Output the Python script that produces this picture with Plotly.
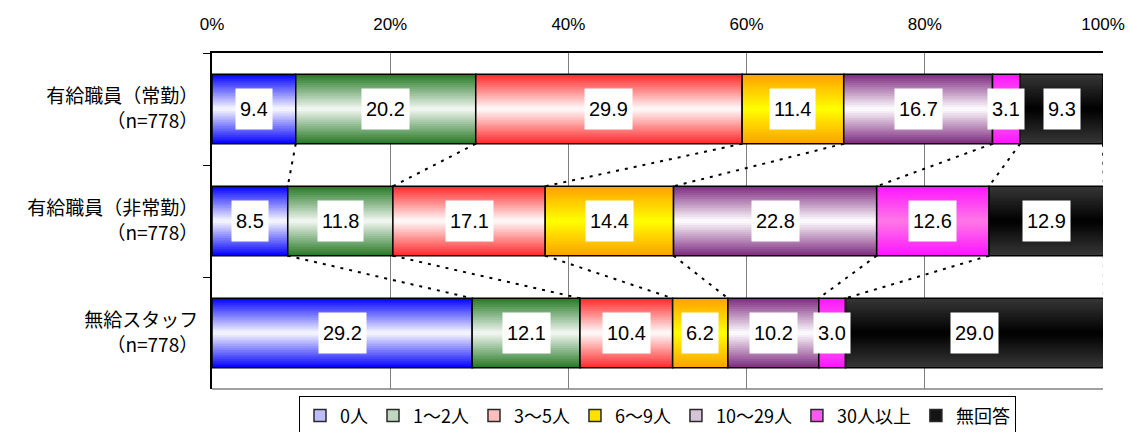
import plotly.graph_objects as go

# ---- data ----
rows = ["有給職員（常勤）<br>（n=778）", "有給職員（非常勤）<br>（n=778）", "無給スタッフ<br>（n=778）"]
series_names = ["0人", "1～2人", "3～5人", "6～9人", "10～29人", "30人以上", "無回答"]
v_0 = [9.4, 8.5, 29.2]
v_1_2 = [20.2, 11.8, 12.1]
v_3_5 = [29.9, 17.1, 10.4]
v_6_9 = [11.4, 14.4, 6.2]
v_10_29 = [16.7, 22.8, 10.2]
v_30 = [3.1, 12.6, 3.0]
v_na = [9.3, 12.9, 29.0]
series_values = [v_0, v_1_2, v_3_5, v_6_9, v_10_29, v_30, v_na]
x_ticks = [0, 20, 40, 60, 80, 100]
x_tick_labels = ["0%", "20%", "40%", "60%", "80%", "100%"]

# ---- styles ----
edge_cols = [(0, 0, 255), (35, 120, 35), (255, 40, 40), (255, 160, 0), (125, 40, 125), (255, 20, 255), (55, 55, 55)]
center_cols = [(250, 250, 255), (245, 248, 245), (255, 252, 252), (255, 255, 0), (255, 255, 255), (255, 120, 230), (0, 0, 0)]
legend_fill = [(190, 190, 255), (190, 215, 190), (255, 190, 190), (255, 225, 0), (215, 195, 215), (255, 90, 240), (20, 20, 20)]
BAR_W = 0.62
NSTEP = 16
NUM_FONT = "Liberation Sans Narrow, Arial Narrow, Liberation Sans, Arial"
JP_FONT = "Noto Sans CJK JP"


def mix(a, b, t):
    return "rgb(%d,%d,%d)" % tuple(round(a[i] + (b[i] - a[i]) * t) for i in range(3))


# cumulative bases
bases = []
acc = [0.0] * len(rows)
for vals in series_values:
    bases.append(list(acc))
    acc = [acc[i] + vals[i] for i in range(len(rows))]

fig = go.Figure()

for s, vals in enumerate(series_values):
    for k in range(NSTEP):
        frac = 1 - k / NSTEP
        d = 1 - (k + 0.5) / NSTEP
        col = mix(center_cols[s], edge_cols[s], d)
        fig.add_trace(go.Bar(
            y=rows, x=vals, base=bases[s], orientation="h",
            width=BAR_W * frac, marker=dict(color=col, line=dict(width=0)),
            showlegend=False, hoverinfo="skip",
        ))
    fig.add_trace(go.Bar(
        y=rows, x=vals, base=bases[s], orientation="h", width=BAR_W,
        marker=dict(color="rgba(0,0,0,0)", line=dict(color="black", width=1.5)),
        showlegend=False, name=series_names[s],
    ))

# connector (series) lines on numeric overlay axis
for r in range(len(rows) - 1):
    for s in range(len(series_values)):
        x0 = bases[s][r] + series_values[s][r]
        x1 = bases[s][r + 1] + series_values[s][r + 1]
        fig.add_trace(go.Scatter(
            x=[x0, x1], y=[r + BAR_W / 2, r + 1 - BAR_W / 2], yaxis="y2",
            mode="lines", line=dict(color="black", width=2, dash="3px,6px"),
            showlegend=False, hoverinfo="skip",
        ))

# legend entries
for s, name in enumerate(series_names):
    fig.add_trace(go.Scatter(
        x=[None], y=[None], mode="markers", name=name,
        marker=dict(symbol="square", size=12, color=mix(legend_fill[s], legend_fill[s], 0),
                    line=dict(color="rgb(40,40,40)", width=1.5)),
    ))

# data labels
for s, vals in enumerate(series_values):
    for r in range(len(rows)):
        fig.add_annotation(
            x=bases[s][r] + vals[r] / 2, y=rows[r], xref="x", yref="y",
            text="%.1f" % vals[r], showarrow=False,
            font=dict(family=NUM_FONT, size=20, color="black"),
            bgcolor="white", borderpad=4, height=32,
        )

fig.update_layout(
    width=1129, height=432,
    margin=dict(l=212, r=26, t=53, b=43, autoexpand=False),
    paper_bgcolor="white", plot_bgcolor="white",
    barmode="overlay",
    font=dict(family=JP_FONT, color="black"),
    xaxis=dict(
        side="top", range=[0, 100], tickvals=x_ticks, ticktext=x_tick_labels,
        showgrid=True, gridcolor="rgb(128,128,128)", gridwidth=1,
        showline=True, linecolor="black", linewidth=2,
        zeroline=False, ticks="", ticklabelstandoff=14, automargin=False,
        tickfont=dict(family=NUM_FONT, size=17, color="black"),
        fixedrange=True,
    ),
    yaxis=dict(
        type="category", categoryorder="array", categoryarray=rows,
        range=[2.5, -0.5], tickson="boundaries", ticks="outside", ticklen=7,
        tickcolor="black", showgrid=False, showline=True, linecolor="black", linewidth=2,
        tickfont=dict(family=JP_FONT, size=19, color="black"), ticklabelstandoff=8,
        automargin=False,
    ),
    yaxis2=dict(overlaying="y", range=[2.5, -0.5], visible=False, showgrid=False),
    legend=dict(
        orientation="h", x=0.5, xanchor="center", y=-0.022, yanchor="top",
        bordercolor="black", borderwidth=1, font=dict(family=JP_FONT, size=18),
        itemwidth=30, tracegroupgap=0, valign="middle",
    ),
    shapes=[dict(type="line", xref="paper", yref="paper", x0=0, x1=1, y0=0, y1=0,
                 line=dict(color="rgb(128,128,128)", width=1.5))],
)

fig.write_html("out.html")
